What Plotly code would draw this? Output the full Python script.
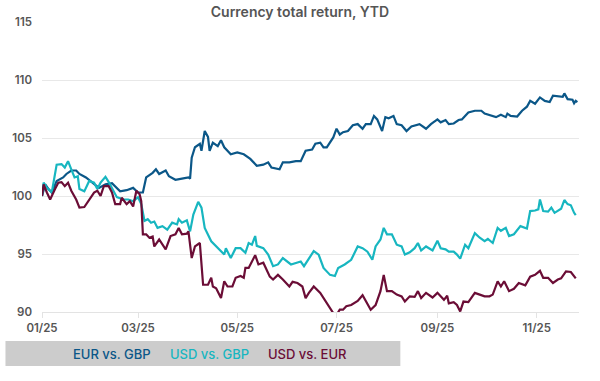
import plotly.graph_objects as go

# ---------------- data ----------------
eur_gbp_dates = ["2025-01-01","2025-01-03","2025-01-05","2025-01-07","2025-01-10","2025-01-14","2025-01-16","2025-01-19",
    "2025-01-22","2025-01-24","2025-01-28","2025-02-02","2025-02-05","2025-02-09","2025-02-13","2025-02-18","2025-02-22",
    "2025-02-26","2025-03-01","2025-03-04","2025-03-06","2025-03-10","2025-03-12","2025-03-14","2025-03-18","2025-03-20",
    "2025-03-24","2025-03-28","2025-04-01","2025-04-02","2025-04-03","2025-04-05","2025-04-08","2025-04-09","2025-04-11",
    "2025-04-13","2025-04-14","2025-04-16","2025-04-19","2025-04-21","2025-04-23","2025-04-27","2025-05-01","2025-05-05",
    "2025-05-09","2025-05-13","2025-05-17","2025-05-20","2025-05-22","2025-05-27","2025-05-29","2025-06-02","2025-06-06",
    "2025-06-09","2025-06-12","2025-06-16","2025-06-18","2025-06-21","2025-06-23","2025-06-25","2025-06-29","2025-07-01",
    "2025-07-03","2025-07-05","2025-07-08","2025-07-11","2025-07-14","2025-07-17","2025-07-19","2025-07-22","2025-07-24",
    "2025-07-26","2025-07-29","2025-07-31","2025-08-02","2025-08-05","2025-08-07","2025-08-10","2025-08-13","2025-08-16",
    "2025-08-21","2025-08-25","2025-08-28","2025-09-01","2025-09-03","2025-09-06","2025-09-08","2025-09-11","2025-09-14",
    "2025-09-16","2025-09-20","2025-09-24","2025-09-28","2025-09-30","2025-10-04","2025-10-07","2025-10-10","2025-10-13",
    "2025-10-14","2025-10-16","2025-10-20","2025-10-23","2025-10-26","2025-10-28","2025-10-31","2025-11-03","2025-11-06",
    "2025-11-09","2025-11-11","2025-11-14","2025-11-17","2025-11-18","2025-11-20","2025-11-23","2025-11-24","2025-11-25",
    "2025-11-26"]
eur_gbp_values = [100.0,101.0,100.6,100.3,101.3,101.6,101.9,102.2,
    102.2,101.9,101.6,101.0,100.7,101.0,101.1,100.4,100.5,
    100.7,100.3,100.3,101.6,102.0,102.3,101.9,102.2,101.7,
    101.4,101.5,101.6,101.5,103.3,104.2,104.5,103.9,105.6,
    105.1,103.9,104.6,104.3,104.8,104.2,103.6,103.75,103.6,
    103.2,102.6,102.7,102.9,102.45,102.3,102.9,102.9,103.0,
    103.0,103.9,104.0,104.5,104.6,104.2,104.2,105.05,105.8,
    105.3,105.5,105.6,106.1,106.2,105.8,106.2,106.2,106.9,
    106.6,105.6,106.8,106.7,106.9,106.2,106.1,105.6,106.0,
    106.2,105.8,106.2,106.6,106.35,106.55,106.2,106.25,106.55,
    106.6,107.2,107.35,107.35,107.1,106.9,106.8,107.0,106.8,
    107.1,106.9,106.85,107.35,107.7,108.2,107.95,108.5,108.2,
    108.1,108.65,108.6,108.55,108.85,108.35,108.3,108.0,108.2,
    108.1]

usd_gbp_dates = ["2025-01-01","2025-01-02","2025-01-04","2025-01-07","2025-01-10","2025-01-13","2025-01-15","2025-01-17",
    "2025-01-19","2025-01-21","2025-01-23","2025-01-24","2025-01-27","2025-01-30","2025-02-02","2025-02-04","2025-02-06",
    "2025-02-09","2025-02-11","2025-02-13","2025-02-16","2025-02-20","2025-02-23","2025-02-26","2025-03-01","2025-03-03",
    "2025-03-05","2025-03-07","2025-03-09","2025-03-11","2025-03-13","2025-03-16","2025-03-19","2025-03-22","2025-03-25",
    "2025-03-26","2025-03-28","2025-03-31","2025-04-02","2025-04-04","2025-04-07","2025-04-09","2025-04-11","2025-04-15",
    "2025-04-19","2025-04-23","2025-04-24","2025-04-27","2025-04-30","2025-05-03","2025-05-06","2025-05-08","2025-05-10",
    "2025-05-12","2025-05-13","2025-05-17","2025-05-20","2025-05-23","2025-05-26","2025-05-29","2025-06-03","2025-06-06",
    "2025-06-09","2025-06-11","2025-06-13","2025-06-17","2025-06-20","2025-06-23","2025-06-27","2025-06-30","2025-07-02",
    "2025-07-06","2025-07-10","2025-07-14","2025-07-17","2025-07-20","2025-07-23","2025-07-25","2025-07-28","2025-07-30",
    "2025-08-01","2025-08-04","2025-08-07","2025-08-10","2025-08-12","2025-08-15","2025-08-18","2025-08-20","2025-08-22",
    "2025-08-25","2025-08-29","2025-09-01","2025-09-03","2025-09-06","2025-09-08","2025-09-11","2025-09-13","2025-09-15",
    "2025-09-18","2025-09-20","2025-09-24","2025-09-27","2025-09-30","2025-10-02","2025-10-05","2025-10-08","2025-10-10",
    "2025-10-13","2025-10-15","2025-10-18","2025-10-22","2025-10-26","2025-10-28","2025-10-31","2025-11-02","2025-11-03",
    "2025-11-05","2025-11-08","2025-11-10","2025-11-12","2025-11-16","2025-11-18","2025-11-20","2025-11-22","2025-11-24",
    "2025-11-25"]
usd_gbp_values = [100.0,101.15,100.7,100.3,102.7,102.75,102.45,103.0,
    102.3,101.6,101.7,100.6,100.4,101.3,101.15,100.6,101.15,
    101.65,101.2,100.7,99.9,99.7,99.7,99.55,99.9,99.3,
    97.85,98.0,97.7,97.8,97.25,97.4,97.1,97.7,97.55,
    98.0,97.7,97.9,96.95,98.4,99.5,99.0,97.25,96.1,
    95.5,94.95,95.5,94.65,95.5,95.5,95.1,95.95,95.8,
    96.55,95.7,95.5,94.95,93.95,94.1,94.65,94.1,94.2,
    94.35,93.95,94.4,95.25,94.95,93.8,93.2,93.1,93.8,
    94.1,94.5,95.65,95.5,95.2,94.5,95.65,96.25,97.25,
    96.7,96.7,95.8,95.65,94.95,95.15,95.5,95.95,95.3,
    95.65,95.3,96.15,95.5,95.4,95.2,95.2,94.95,94.6,
    95.8,95.5,96.8,96.4,96.1,96.3,95.95,97.25,97.0,
    97.25,96.55,96.7,97.4,97.2,98.7,98.75,98.85,99.7,
    98.7,98.65,99.0,98.55,98.9,99.65,99.3,99.2,98.55,
    98.35]

usd_eur_dates = ["2025-01-01","2025-01-02","2025-01-04","2025-01-06","2025-01-09","2025-01-11","2025-01-13","2025-01-15",
    "2025-01-17","2025-01-19","2025-01-22","2025-01-24","2025-01-27","2025-01-30","2025-02-02","2025-02-04","2025-02-06",
    "2025-02-08","2025-02-11","2025-02-13","2025-02-15","2025-02-18","2025-02-19","2025-02-22","2025-02-24","2025-02-26",
    "2025-02-28","2025-03-02","2025-03-03","2025-03-04","2025-03-06","2025-03-08","2025-03-10","2025-03-11","2025-03-14",
    "2025-03-18","2025-03-21","2025-03-24","2025-03-26","2025-03-28","2025-03-31","2025-04-01","2025-04-03","2025-04-05",
    "2025-04-08","2025-04-10","2025-04-13","2025-04-15","2025-04-16","2025-04-18","2025-04-21","2025-04-23","2025-04-25",
    "2025-04-28","2025-04-30","2025-05-03","2025-05-05","2025-05-06","2025-05-08","2025-05-12","2025-05-14","2025-05-17",
    "2025-05-19","2025-05-21","2025-05-23","2025-05-26","2025-05-29","2025-06-02","2025-06-04","2025-06-07","2025-06-10",
    "2025-06-12","2025-06-14","2025-06-17","2025-06-21","2025-06-25","2025-06-29","2025-07-01","2025-07-03","2025-07-05",
    "2025-07-07","2025-07-10","2025-07-14","2025-07-17","2025-07-19","2025-07-22","2025-07-25","2025-07-28","2025-07-30",
    "2025-08-01","2025-08-04","2025-08-07","2025-08-10","2025-08-12","2025-08-15","2025-08-18","2025-08-20","2025-08-22",
    "2025-08-25","2025-08-29","2025-09-01","2025-09-05","2025-09-07","2025-09-08","2025-09-11","2025-09-13","2025-09-15",
    "2025-09-17","2025-09-20","2025-09-24","2025-09-27","2025-09-30","2025-10-03","2025-10-05","2025-10-08","2025-10-10",
    "2025-10-12","2025-10-15","2025-10-18","2025-10-21","2025-10-25","2025-10-28","2025-10-31","2025-11-03","2025-11-05",
    "2025-11-08","2025-11-11","2025-11-14","2025-11-16","2025-11-19","2025-11-22","2025-11-24","2025-11-25"]
usd_eur_values = [100.0,101.0,100.3,99.7,100.6,101.15,101.2,100.85,
    101.15,100.45,99.7,99.0,99.05,99.7,100.3,100.45,100.0,
    100.85,100.85,100.3,99.3,99.3,99.85,99.3,99.55,99.1,
    100.45,100.15,99.55,96.7,96.7,96.4,96.5,95.65,96.25,
    95.4,96.55,96.7,97.25,96.7,96.75,96.95,94.65,95.65,
    95.95,92.35,92.35,92.95,92.2,92.05,91.2,92.65,92.2,
    92.2,92.95,93.1,92.95,93.8,93.8,94.9,94.1,94.25,
    93.65,93.05,92.8,93.2,92.8,92.2,92.6,92.5,92.2,
    91.2,91.65,92.2,91.65,90.75,89.9,89.75,90.2,90.2,
    90.5,90.6,90.95,91.45,90.9,90.2,90.6,91.8,93.2,
    91.8,91.8,91.5,91.35,90.9,91.35,91.3,91.8,91.2,
    91.65,91.25,91.65,91.05,91.4,90.75,90.85,90.6,90.05,
    90.9,90.85,91.65,91.5,91.35,91.35,91.5,92.65,92.2,
    92.65,91.8,92.0,92.5,92.3,93.05,93.2,93.55,92.95,
    92.95,92.5,92.8,92.9,93.5,93.45,93.05,92.9]

series_names = ["EUR vs. GBP", "USD vs. GBP", "USD vs. EUR"]
series_colors = ["#0b5788", "#17b6c0", "#6b0d36"]
y_ticks = [90, 95, 100, 105, 110, 115]
title_text = "Currency total return, YTD"

# ---------------- figure ----------------
fig = go.Figure()
for name, color, xs, ys in zip(series_names, series_colors,
                               [eur_gbp_dates, usd_gbp_dates, usd_eur_dates],
                               [eur_gbp_values, usd_gbp_values, usd_eur_values]):
    fig.add_trace(go.Scatter(x=xs, y=ys, mode="lines", name=name,
                             line=dict(color=color, width=2.2), showlegend=False,
                             cliponaxis=False))

W, H = 600, 381
ml, mr, mt, mb = 35, 21, 22, 69
pw, ph = W - ml - mr, H - mt - mb

def px_x(p):
    return (p - ml) / pw

def px_y(p):
    return (H - mb - p) / ph

tick_font = dict(family="Inter, Roboto, sans-serif", size=11.5, color="#555555", weight=600)

fig.update_layout(
    width=W, height=H,
    margin=dict(l=ml, r=mr, t=mt, b=mb),
    paper_bgcolor="white", plot_bgcolor="white",
    title=dict(text=title_text, x=0.5, xanchor="center", y=1 - 12 / H, yanchor="middle",
               font=dict(family="Inter, Roboto, sans-serif", size=14, color="#555555", weight=600)),
    xaxis=dict(type="date", range=["2025-01-01", "2025-11-27"],
               tick0="2025-01-01", dtick="M2", tickformat="%m/%y",
               showgrid=False, showline=True, linecolor="#e3e3e3", linewidth=1,
               ticks="outside", ticklen=5, tickcolor="#e3e3e3", tickwidth=1,
               tickfont=tick_font, zeroline=False),
    yaxis=dict(range=[90, 115], tickvals=y_ticks, showgrid=True, gridcolor="#e8e8e8",
               gridwidth=1, zeroline=False, showline=False, ticks="",
               ticklabelstandoff=9, tickfont=tick_font),
    showlegend=False,
)

# legend band
fig.add_shape(type="rect", xref="paper", yref="paper",
              x0=px_x(-2), x1=px_x(398), y0=px_y(366), y1=px_y(341),
              fillcolor="#cccccc", line=dict(width=0), layer="below")
legend_centers = [106, 205, 304]
for name, color, cx in zip(series_names, series_colors, legend_centers):
    fig.add_annotation(xref="paper", yref="paper", x=px_x(cx), y=px_y(353.5),
                       text=name, showarrow=False, xanchor="center", yanchor="middle",
                       font=dict(family="Inter, Roboto, sans-serif", size=13, color=color, weight=500))

fig.write_html("out.html", config={"displayModeBar": False},
               post_script="document.body.style.margin='0';")
